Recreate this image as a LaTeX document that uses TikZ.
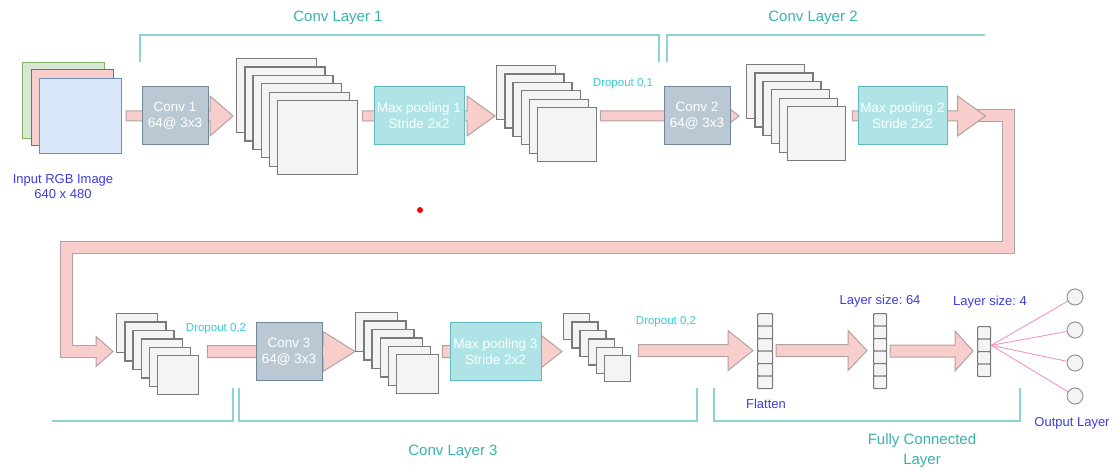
\documentclass[tikz,border=0pt]{standalone}
\usepackage{fontspec}
\setmainfont{Liberation Sans}
\usetikzlibrary{calc,backgrounds}

\definecolor{convfill}{HTML}{BAC8D3}
\definecolor{convline}{HTML}{6F8799}
\definecolor{poolfill}{HTML}{B0E3E6}
\definecolor{poolline}{HTML}{5FB9BE}
\definecolor{mapfill}{HTML}{F4F4F4}
\definecolor{mapline}{HTML}{7A7A7A}
\definecolor{flexfill}{HTML}{F8CECC}
\definecolor{flexline}{HTML}{B3A0A0}
\definecolor{groupline}{HTML}{8ED3D3}
\definecolor{grouptext}{HTML}{3AB3AE}
\definecolor{droptext}{HTML}{33CCD6}
\definecolor{infotext}{HTML}{3C3CE0}
\definecolor{outedgecol}{HTML}{F28CBE}
\definecolor{rgbgfill}{HTML}{D5E8D4}
\definecolor{rgbgline}{HTML}{82B366}
\definecolor{rgbrfill}{HTML}{F8CECC}
\definecolor{rgbrline}{HTML}{B85450}
\definecolor{rgbbfill}{HTML}{DAE8FC}
\definecolor{rgbbline}{HTML}{6C8EBF}

\tikzset{
  rgb/.style        = {anchor=north west, minimum width=82pt, minimum height=76pt,
                       line width=1pt, inner sep=0pt},
  conv/.style       = {fill=convfill, draw=convline, line width=1pt,
                       minimum width=66pt, minimum height=58pt, inner sep=0pt,
                       align=center, text=white, font=\fontsize{13.5}{16}\selectfont},
  pool/.style       = {conv, fill=poolfill, draw=poolline, minimum width=90pt},
  fmap/.style       = {anchor=north west, draw=mapline, fill=mapfill,
                       line width=1.3pt, inner sep=0pt},
  cell/.style       = {anchor=north west, draw=mapline, fill=mapfill, line width=1.2pt,
                       rounded corners=1pt, minimum height=12.5pt, inner sep=0pt},
  neuron/.style     = {circle, draw=mapline!80, fill=mapfill, line width=1pt,
                       minimum size=16pt, inner sep=0pt},
  flex/.style       = {fill=flexfill, draw=flexline, line width=1pt, line join=miter},
  band/.style       = {draw=flexline, line width=1pt, double=flexfill,
                       double distance=11pt, line join=miter},
  outedge/.style    = {draw=outedgecol, line width=0.8pt},
  group/.style      = {draw=groupline, line width=1.2pt},
  grouptitle/.style = {text=grouptext, align=center, font=\fontsize{15}{20}\selectfont},
  droplabel/.style  = {text=droptext, font=\fontsize{11.5}{14}\selectfont},
  infolabel/.style  = {text=infotext, align=center, font=\fontsize{13}{15}\selectfont}
}

% six stacked feature maps: name, x, y, width, height
\newcommand{\fmstack}[5]{%
  \foreach \i in {0,...,5}
    \node[fmap, minimum width=#4pt, minimum height=#5pt] (#1-\i)
      at (#2+8.2*\i, #3+8.4*\i) {};
}

% column of neurons: name, x, y, cells, width
\newcommand{\fccolumn}[5]{%
  \foreach \i in {1,...,#4}
    \node[cell, minimum width=#5pt] (#1-\i) at (#2, #3+12.5*\i-12.5) {};
}

% fat arrow: start, tip, head length, head half width, shaft half width
\newcommand{\blockarrow}[5]{%
  \draw[flex] let \p1 = (#1), \p2 = (#2) in
    (\x1, \y2+#5pt) -- (\x2-#3pt, \y2+#5pt) -- (\x2-#3pt, \y2+#4pt) -- (\p2)
    -- (\x2-#3pt, \y2-#4pt) -- (\x2-#3pt, \y2-#5pt) -- (\x1, \y2-#5pt) -- cycle;
}

\begin{document}
\frenchspacing
\begin{tikzpicture}[x=1pt, y=-1pt]
\useasboundingbox (0,0) rectangle (1116,470);

% input image
\node[rgb, fill=rgbgfill, draw=rgbgline] (rgbG) at (22,62) {};
\node[rgb, fill=rgbrfill, draw=rgbrline] (rgbR) at (31,69) {};
\node[rgb, fill=rgbbfill, draw=rgbbline, minimum height=75pt] (rgbB) at (39,78) {};
\node[infolabel] (inlbl) at (63,187) {Input RGB Image\\640 x 480};

% conv layer 1
\node[conv] (c1) at (175,116) {Conv 1\\64@ 3x3};
\fmstack{s1}{236}{58}{80}{74}
\node[pool] (mp1) at (419,116) {Max pooling 1\\Stride 2x2};
\fmstack{s2}{496}{65}{59}{54}
\node[droplabel] (d1) at (623,84) {Dropout 0,1};

% conv layer 2
\node[conv] (c2) at (697,116) {Conv 2\\64@ 3x3};
\fmstack{s3}{746}{64}{58}{54}
\node[pool, minimum width=89pt] (mp2) at (902.5,116) {Max pooling 2\\Stride 2x2};

% conv layer 3
\fmstack{s4}{116}{313}{41}{39}
\node[droplabel] (d2) at (216,329) {Dropout 0,2};
\node[conv] (c3) at (289,351.5) {Conv 3\\64@ 3x3};
\fmstack{s5}{355}{312}{42}{39}
\node[pool, minimum width=91pt] (mp3) at (495.5,351.5) {Max pooling 3\\Stride 2x2};
\fmstack{s6}{563}{313}{26}{26}
\node[droplabel] (d3) at (666,322) {Dropout 0,2};

% fully connected part
\fccolumn{fl}{757}{313}{6}{15}
\fccolumn{l64}{873}{313}{6}{13}
\fccolumn{l4}{977}{326}{4}{13}
\node[infolabel] (fllbl) at (766,404) {Flatten};
\node[infolabel] (l64lbl) at (880,301) {Layer size: 64};
\node[infolabel] (l4lbl) at (990,302) {Layer size: 4};
\foreach \i/\y in {1/297, 2/330, 3/363, 4/396}
  \node[neuron] (o\i) at (1075,\y) {};
\node[infolabel] (outlbl) at (1072,423) {Output Layer};
\foreach \i in {1,...,4}
  \draw[outedge] (l4-2.east) -- (o\i);

% groups
\draw[group] (140,62) |- (659,35) -- (659,62);
\draw[group] (667,62) |- (985,35);
\draw[group] (52,421) -| (233,388);
\draw[group] (239,388) |- (697,421) -- (697,388);
\draw[group] (714,388) |- (1020,421) -- (1020,388);
\node[grouptitle] (g1) at (338,18) {Conv Layer 1};
\node[grouptitle] (g2) at (813,18) {Conv Layer 2};
\node[grouptitle] (g3) at (453,452) {Conv Layer 3};
\node[grouptitle] (g4) at (922,451) {Fully Connected\\Layer};

\fill[red] (420,210) circle (3);

% arrows go behind the blocks
\begin{scope}[on background layer]
  \coordinate (bendR) at (1008,248);
  \coordinate (bendL) at (66,248);
  \coordinate (wrapTip) at ($(s4-0.west |- c3.west)+(-3,0)$);
  \draw[band] ($(mp2.east)+(28,0)$) -| (bendR) -- (bendL) |- ($(wrapTip)+(-17,0)$);
  \filldraw[flex] let \p1 = (wrapTip) in
    (\x1-17pt, \y1+5.5pt) -- (\x1-17pt, \y1+15pt) -- (\p1)
    -- (\x1-17pt, \y1-15pt) -- (\x1-17pt, \y1-5.5pt);

  \blockarrow{$(rgbB.east |- c1.east)+(4,0)$}{$(s1-0.west |- c1.east)+(-3,0)$}{23}{20}{5}
  \blockarrow{$(s1-5.east |- mp1.west)+(4,0)$}{$(s2-0.west |- mp1.east)+(-1,0)$}{28}{20}{5}
  \blockarrow{$(s2-5.east |- c2.west)+(3,0)$}{$(s3-0.west |- c2.east)+(-7,0)$}{9}{7}{5}
  \blockarrow{$(s3-5.east |- mp2.west)+(6,0)$}{$(mp2.east)+(38,0)$}{28}{20}{5}
  \blockarrow{$(s4-5.east |- c3.west)+(8,0)$}{$(s5-0.west |- c3.east)$}{32}{20}{6}
  \blockarrow{$(s5-5.east |- mp3.west)+(3,0)$}{$(s6-0.west |- mp3.east)+(-1,0)$}{23}{18}{6}
  \blockarrow{$(s6-5.east |- fl-4.north)+(7,0)$}{$(fl-4.north west)+(-4,0)$}{25}{20}{6}
  \blockarrow{$(fl-4.north east)+(3,0)$}{$(l64-4.north west)+(-6,0)$}{19}{20}{6}
  \blockarrow{$(l64-4.north east)+(3,0)$}{$(l4-3.north west)+(-4,0)$}{18}{20}{6}
\end{scope}
\end{tikzpicture}
\end{document}
